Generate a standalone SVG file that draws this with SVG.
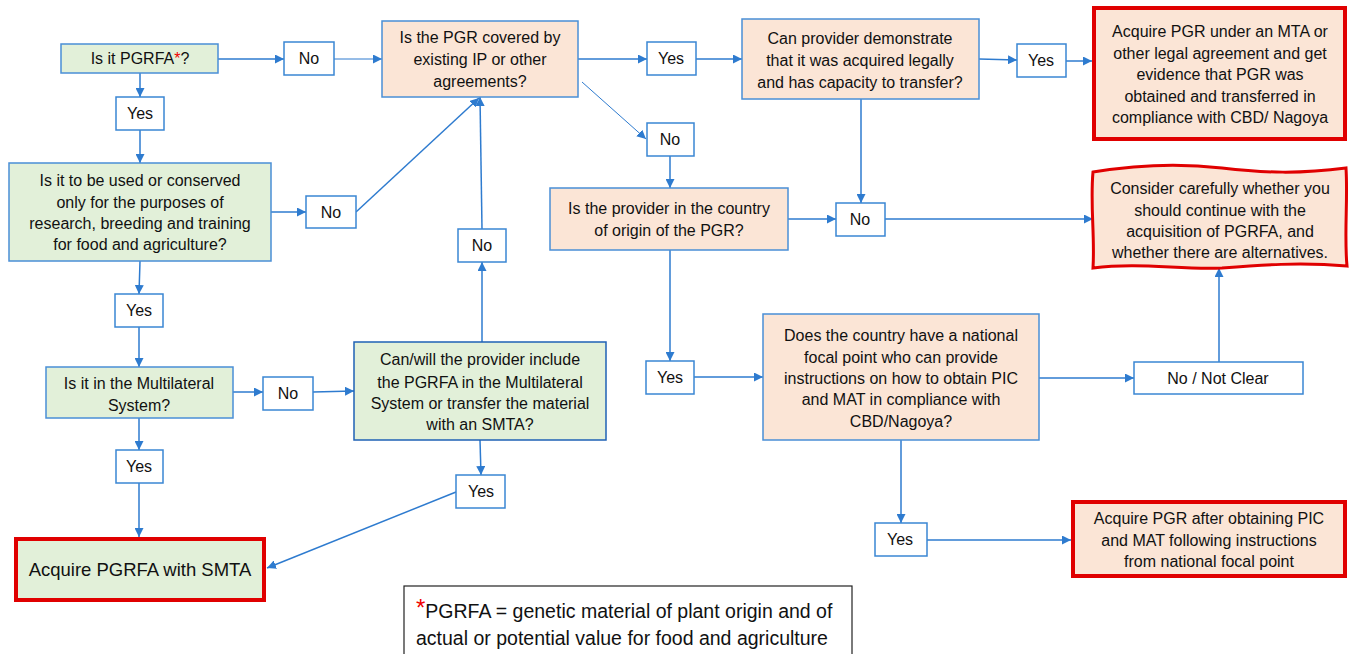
<svg xmlns="http://www.w3.org/2000/svg" width="1354" height="654" viewBox="0 0 1354 654">
<defs>
<marker id="ah" viewBox="0 0 10 10" refX="10" refY="5" markerWidth="9" markerHeight="9" markerUnits="userSpaceOnUse" orient="auto">
<path d="M0,0 L10,5 L0,10 Z" fill="#2E7BCF"/>
</marker>
<style>
.g{fill:#E2F0D9;stroke:#4A8FD6;stroke-width:1.5}
.g2{fill:#E2F0D9;stroke:#1F62B5;stroke-width:1.5}
.p{fill:#FBE5D6;stroke:#4A8FD6;stroke-width:1.5}
.l{fill:#FFFFFF;stroke:#3A86D3;stroke-width:1.5}
.rp{fill:#FBE5D6;stroke:#E00000;stroke-width:4}
.rg{fill:#E2F0D9;stroke:#E00000;stroke-width:4}
.fn{fill:#FFFFFF;stroke:#222;stroke-width:1.2}
text{font-family:"Liberation Sans",Arial,sans-serif;font-size:16px;fill:#111;text-anchor:middle}
.c line,.c path{stroke:#2E7BCF;stroke-width:1.5;fill:none;marker-end:url(#ah)}
.c .thin{stroke-width:1}
.star{fill:#F00000}
</style>
</defs>

<g class="c" id="connectors">
<line x1="218" y1="59" x2="284" y2="59"/>
<line class="thin" x1="334" y1="59" x2="382" y2="59"/>
<line x1="578" y1="59" x2="647" y2="59"/>
<line x1="696" y1="59" x2="742" y2="59"/>
<line x1="979" y1="59" x2="1017" y2="60"/>
<line x1="1066" y1="61" x2="1092" y2="61"/>
<line x1="140" y1="73" x2="140" y2="97"/>
<line x1="140" y1="130" x2="140" y2="163"/>
<line x1="271" y1="212" x2="306" y2="212"/>
<line x1="356" y1="212" x2="479" y2="98"/>
<line class="thin" x1="582" y1="82" x2="646" y2="139"/>
<line x1="670" y1="156" x2="670" y2="188"/>
<line x1="788" y1="219" x2="836" y2="219"/>
<line x1="861" y1="99" x2="861" y2="203"/>
<line x1="885" y1="219" x2="1093" y2="219"/>
<line x1="140" y1="261" x2="139" y2="294"/>
<line x1="139" y1="327" x2="139" y2="367"/>
<line x1="233" y1="392" x2="263" y2="392"/>
<line x1="313" y1="392" x2="354" y2="391"/>
<line x1="482" y1="342" x2="482" y2="262"/>
<line x1="482" y1="229" x2="480" y2="97"/>
<line x1="480" y1="440" x2="481" y2="475"/>
<line x1="456" y1="492" x2="267" y2="568"/>
<line x1="139" y1="418" x2="139" y2="450"/>
<line x1="139" y1="483" x2="139" y2="537"/>
<line x1="670" y1="250" x2="670" y2="361"/>
<line x1="694" y1="377" x2="763" y2="377"/>
<line x1="1039" y1="378" x2="1134" y2="378"/>
<line x1="1219" y1="362" x2="1219" y2="268"/>
<line x1="901" y1="440" x2="901" y2="523"/>
<line x1="927" y1="540" x2="1071" y2="540"/>
</g>

<g id="q-pgrfa">
<rect class="g" x="61" y="44" width="157" height="29"/>
<text x="140" y="64">Is it PGRFA<tspan class="star">*</tspan>?</text>
</g>
<g id="no-1">
<rect class="l" x="284" y="42" width="50" height="33"/>
<text x="309" y="64">No</text>
</g>
<g id="q-ip">
<rect class="p" x="382" y="21" width="196" height="76"/>
<text x="480" y="43">Is the PGR covered by</text>
<text x="480" y="65">existing IP or other</text>
<text x="480" y="87">agreements?</text>
</g>
<g id="yes-1">
<rect class="l" x="647" y="42" width="49" height="33"/>
<text x="671" y="64">Yes</text>
</g>
<g id="q-legal">
<rect class="p" x="742" y="19" width="237" height="80"/>
<text x="860" y="44">Can provider demonstrate</text>
<text x="860" y="66">that it was acquired legally</text>
<text x="860" y="88">and has capacity to transfer?</text>
</g>
<g id="yes-2">
<rect class="l" x="1017" y="44" width="49" height="33"/>
<text x="1041" y="66">Yes</text>
</g>
<g id="acquire-mta">
<rect class="rp" x="1094" y="8" width="251" height="131"/>
<text x="1220" y="37">Acquire PGR under an MTA or</text>
<text x="1220" y="59">other legal agreement and get</text>
<text x="1220" y="80">evidence that PGR was</text>
<text x="1220" y="102">obtained and transferred in</text>
<text x="1220" y="123">compliance with CBD/ Nagoya</text>
</g>
<g id="yes-3">
<rect class="l" x="116" y="97" width="48" height="33"/>
<text x="140" y="119">Yes</text>
</g>
<g id="q-purpose">
<rect class="g" x="9" y="163" width="262" height="98"/>
<text x="140" y="186">Is it to be used or conserved</text>
<text x="140" y="208">only for the purposes of</text>
<text x="140" y="229">research, breeding and training</text>
<text x="140" y="250">for food and agriculture?</text>
</g>
<g id="no-2">
<rect class="l" x="306" y="196" width="50" height="32"/>
<text x="331" y="218">No</text>
</g>
<g id="no-3">
<rect class="l" x="647" y="123" width="47" height="33"/>
<text x="670" y="145">No</text>
</g>
<g id="q-origin">
<rect class="p" x="550" y="188" width="238" height="62"/>
<text x="669" y="214">Is the provider in the country</text>
<text x="669" y="236">of origin of the PGR?</text>
</g>
<g id="no-4">
<rect class="l" x="836" y="203" width="49" height="33"/>
<text x="860" y="225">No</text>
</g>
<g id="consider">
<path d="M1093,172 C1135,165 1180,163 1222,168 C1265,173 1300,174 1346,168 C1348,200 1344,235 1347,266 C1300,262 1260,265 1222,268 C1180,270 1140,262 1093,268 C1095,235 1090,205 1093,172 Z" fill="#FBE5D6" stroke="#E00000" stroke-width="3"/>
<text x="1220" y="194">Consider carefully whether you</text>
<text x="1220" y="216">should continue with the</text>
<text x="1220" y="237">acquisition of PGRFA, and</text>
<text x="1220" y="258">whether there are alternatives.</text>
</g>
<g id="yes-4">
<rect class="l" x="115" y="294" width="48" height="33"/>
<text x="139" y="316">Yes</text>
</g>
<g id="q-mls">
<rect class="g" x="46" y="367" width="187" height="51"/>
<text x="139" y="389">Is it in the Multilateral</text>
<text x="139" y="411">System?</text>
</g>
<g id="no-5">
<rect class="l" x="263" y="377" width="50" height="33"/>
<text x="288" y="399">No</text>
</g>
<g id="q-include">
<rect class="g2" x="354" y="342" width="252" height="98"/>
<text x="480" y="365">Can/will the provider include</text>
<text x="480" y="388">the PGRFA in the Multilateral</text>
<text x="480" y="409">System or transfer the material</text>
<text x="480" y="430">with an SMTA?</text>
</g>
<g id="no-6">
<rect class="l" x="458" y="229" width="48" height="33"/>
<text x="482" y="251">No</text>
</g>
<g id="yes-5">
<rect class="l" x="646" y="361" width="48" height="33"/>
<text x="670" y="383">Yes</text>
</g>
<g id="q-focal">
<rect class="p" x="763" y="314" width="276" height="126"/>
<text x="901" y="341">Does the country have a national</text>
<text x="901" y="363">focal point who can provide</text>
<text x="901" y="384">instructions on how to obtain PIC</text>
<text x="901" y="405">and MAT in compliance with</text>
<text x="901" y="427">CBD/Nagoya?</text>
</g>
<g id="no-notclear">
<rect class="l" x="1134" y="362" width="169" height="32"/>
<text x="1218" y="384">No / Not Clear</text>
</g>
<g id="yes-6">
<rect class="l" x="116" y="450" width="47" height="33"/>
<text x="139" y="472">Yes</text>
</g>
<g id="yes-7">
<rect class="l" x="456" y="475" width="49" height="33"/>
<text x="481" y="497">Yes</text>
</g>
<g id="acquire-smta">
<rect class="rg" x="16" y="539" width="248" height="61"/>
<text x="140" y="576" style="font-size:18.5px">Acquire PGRFA with SMTA</text>
</g>
<g id="yes-8">
<rect class="l" x="875" y="523" width="52" height="33"/>
<text x="900" y="545">Yes</text>
</g>
<g id="acquire-pic">
<rect class="rp" x="1073" y="502" width="272" height="74"/>
<text x="1209" y="524">Acquire PGR after obtaining PIC</text>
<text x="1209" y="546">and MAT following instructions</text>
<text x="1209" y="567">from national focal point</text>
</g>
<g id="footnote">
<rect class="fn" x="404" y="586" width="448" height="80"/>
<text x="416" y="618" style="font-size:19.5px;text-anchor:start"><tspan class="star" style="font-size:24px" dy="-2">*</tspan><tspan dy="2">PGRFA = genetic material of plant origin and of</tspan></text>
<text x="416" y="645" style="font-size:19.5px;text-anchor:start">actual or potential value for food and agriculture</text>
</g>
</svg>
